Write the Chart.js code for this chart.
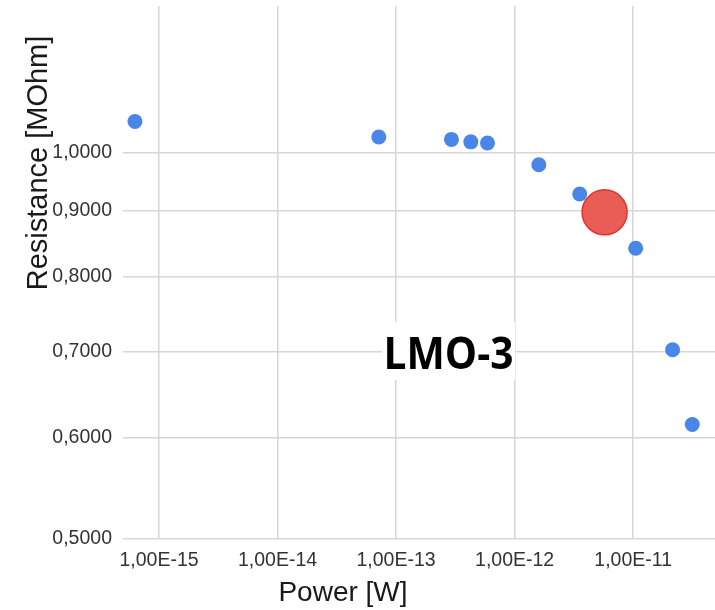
<!DOCTYPE html>
<html>
<head>
<meta charset="utf-8">
<script src="https://cdn.jsdelivr.net/npm/chart.js@4/dist/chart.umd.min.js"></script>
<style>
  html, body { margin: 0; padding: 0; background: #fff; overflow: hidden; }
  #wrap { width: 715px; height: 610px; }
</style>
</head>
<body>
<div id="wrap"><canvas id="c" width="715" height="610"></canvas></div>
<script>
// Measured power [W] and resistance [MOhm] for sample LMO-3
const powerW = [6.27e-16, 7.15e-14, 2.93e-13, 4.27e-13, 5.9e-13, 1.6e-12, 3.54e-12, 1.05e-11, 2.15e-11, 3.15e-11];
const resistanceMOhm = [1.057, 1.028, 1.0235, 1.019, 1.017, 0.978, 0.928, 0.842, 0.702, 0.614];

// Highlighted operating point
const highlightPower = [5.74e-12];
const highlightResistance = [0.898];

// Axis ticks
const xTicks = [1e-15, 1e-14, 1e-13, 1e-12, 1e-11];
const xTickLabels = ['1,00E-15', '1,00E-14', '1,00E-13', '1,00E-12', '1,00E-11'];
const yTicks = [0.5, 0.6, 0.7, 0.8, 0.9, 1.0];
const yTickLabels = ['0,5000', '0,6000', '0,7000', '0,8000', '0,9000', '1,0000'];

const sampleLabel = 'LMO-3';
const xTitle = 'Power [W]';
const yTitle = 'Resistance [MOhm]';

const toPoints = (xs, ys) => xs.map((x, i) => ({ x: x, y: ys[i] }));

const FONT = '"Liberation Sans", Arial, sans-serif';

// Titles and the sample tag are drawn on top of the plot
const annotations = {
  id: 'annotations',
  afterDraw(chart) {
    const ctx = chart.ctx;
    ctx.save();
    // x title
    ctx.fillStyle = '#1a1a1a';
    ctx.font = '28px ' + FONT;
    ctx.textAlign = 'center';
    ctx.textBaseline = 'alphabetic';
    ctx.fillText(xTitle, 343, 601);
    // y title
    ctx.save();
    ctx.translate(47, 163);
    ctx.rotate(-Math.PI / 2);
    ctx.font = '29px ' + FONT;
    ctx.textAlign = 'center';
    ctx.fillText(yTitle, 0, 0);
    ctx.restore();
    // sample tag on a white box
    ctx.fillStyle = '#ffffff';
    ctx.fillRect(382, 322, 133, 58);
    ctx.fillStyle = '#000000';
    ctx.font = 'bold 44px "Open Sans", "Liberation Sans", sans-serif';
    const w = ctx.measureText(sampleLabel).width;
    const target = 130;
    ctx.translate(448.5, 369);
    ctx.scale(target / w, 1);
    ctx.textAlign = 'center';
    ctx.fillText(sampleLabel, 0, 0);
    ctx.restore();
  }
};

new Chart(document.getElementById('c'), {
  type: 'scatter',
  data: {
    datasets: [
      {
        label: 'highlight',
        data: toPoints(highlightPower, highlightResistance),
        backgroundColor: '#e95d57',
        borderColor: '#e0342a',
        borderWidth: 1.5,
        pointRadius: 22.5,
        pointHoverRadius: 22.5,
        order: 0
      },
      {
        label: 'LMO-3',
        data: toPoints(powerW, resistanceMOhm),
        backgroundColor: '#4a86e8',
        borderColor: '#4a86e8',
        borderWidth: 0,
        pointRadius: 7.5,
        pointHoverRadius: 7.5,
        order: 1
      }
    ]
  },
  options: {
    responsive: false,
    animation: false,
    devicePixelRatio: 1,
    layout: { autoPadding: false, padding: { top: 6, right: 0, left: 0, bottom: 0 } },
    plugins: {
      legend: { display: false },
      tooltip: { enabled: false }
    },
    scales: {
      x: {
        type: 'logarithmic',
        min: 4.97e-16,
        max: 4.9e-11,
        afterBuildTicks(scale) {
          scale.ticks = xTicks.map(v => ({ value: v }));
        },
        afterFit(scale) {
          scale.height = 71;
          scale.paddingLeft = 0;
          scale.paddingRight = 0;
        },
        ticks: {
          autoSkip: false,
          maxRotation: 0,
          padding: 10,
          color: '#333333',
          font: { family: FONT, size: 19.5 },
          callback(value) {
            const i = xTicks.findIndex(t => Math.abs(t - value) / t < 1e-6);
            return i >= 0 ? xTickLabels[i] : '';
          }
        },
        grid: {
          color: '#d6d6d6',
          lineWidth: 1.5,
          drawTicks: false
        },
        border: { display: false }
      },
      y: {
        type: 'logarithmic',
        min: 0.5,
        max: 1.3,
        afterBuildTicks(scale) {
          scale.ticks = yTicks.map(v => ({ value: v }));
        },
        afterFit(scale) {
          scale.width = 123;
          scale.paddingTop = 0;
          scale.paddingBottom = 0;
        },
        ticks: {
          autoSkip: false,
          padding: 11,
          color: '#333333',
          font: { family: FONT, size: 19.5 },
          callback(value) {
            const i = yTicks.findIndex(t => Math.abs(t - value) < 1e-9);
            return i >= 0 ? yTickLabels[i] : '';
          }
        },
        grid: {
          color: '#d6d6d6',
          lineWidth: 1.5,
          drawTicks: false
        },
        border: { display: false }
      }
    }
  },
  plugins: [annotations]
});
</script>
</body>
</html>
